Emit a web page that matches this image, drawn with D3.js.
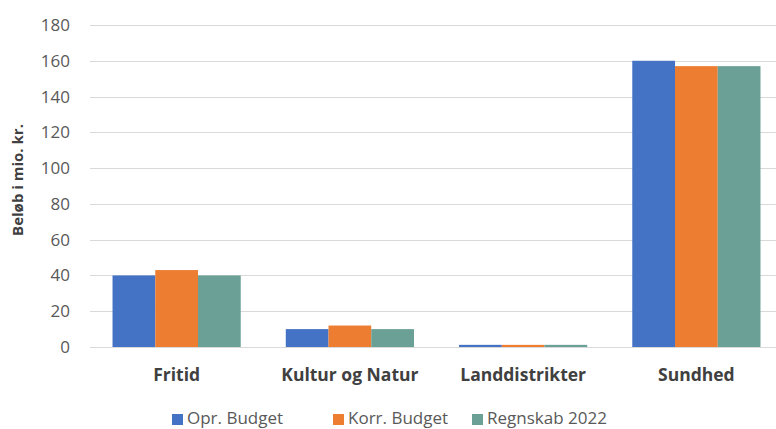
<!DOCTYPE html>
<html>
<head>
<meta charset="utf-8">
<script src="https://cdn.jsdelivr.net/npm/d3@7"></script>
<style>
  html, body { margin: 0; padding: 0; background: #fff; }
  svg { display: block; font-family: "Open Sans", "Noto Sans", sans-serif; }
</style>
</head>
<body>
<div id="chart"></div>
<script>
// Beløb pr. område: oprindeligt budget, korrigeret budget og regnskab 2022 (mio. kr.)
const categories = ["Fritid", "Kultur og Natur", "Landdistrikter", "Sundhed"];
const seriesNames = ["Opr. Budget", "Korr. Budget", "Regnskab 2022"];
const oprBudget = [40, 10, 1.2, 160];
const korrBudget = [43, 12, 1.2, 157];
const regnskab2022 = [40, 10, 1.2, 157];
const yTicks = [0, 20, 40, 60, 80, 100, 120, 140, 160, 180];

const colors = ["#4472C4", "#ED7D31", "#6AA095"];
const seriesValues = [oprBudget, korrBudget, regnskab2022];

const width = 776, height = 429;
const m = { top: 25, right: -7, bottom: 82, left: 90 };

const svg = d3.select("#chart").append("svg")
  .attr("width", width).attr("height", height).attr("viewBox", `0 0 ${width} ${height}`);

const x0 = d3.scaleBand().domain(categories)
  .range([m.left, width - m.right]).paddingInner(0.26).paddingOuter(0.13);
const x1 = d3.scaleBand().domain(seriesNames).range([0, x0.bandwidth()]);
const y = d3.scaleLinear().domain([0, 180]).range([height - m.bottom, m.top]);

// gridlines
svg.append("g").selectAll("line").data(yTicks).join("line")
  .attr("x1", m.left).attr("x2", width)
  .attr("y1", (d) => Math.round(y(d)) + 0.5).attr("y2", (d) => Math.round(y(d)) + 0.5)
  .attr("stroke", "#D9D9D9").attr("stroke-width", 1);

// y tick labels
const yAxis = svg.append("g").attr("transform", `translate(${m.left - 20},0)`)
  .call(d3.axisLeft(y).tickValues(yTicks).tickSize(0).tickPadding(0));
yAxis.select(".domain").remove();
yAxis.selectAll("text").attr("fill", "#595959").attr("font-size", 17)
  .attr("font-family", "'Open Sans', sans-serif");

// bars
const rows = categories.map((c, i) => ({ cat: c, vals: seriesNames.map((s, j) => ({ s, v: seriesValues[j][i], j })) }));
svg.append("g").selectAll("g").data(rows).join("g")
  .attr("transform", (d) => `translate(${x0(d.cat)},0)`)
  .selectAll("rect").data((d) => d.vals).join("rect")
  .attr("x", (d) => x1(d.s)).attr("width", x1.bandwidth())
  .attr("y", (d) => y(d.v)).attr("height", (d) => y(0) - y(d.v))
  .attr("fill", (d) => colors[d.j]);

// category labels
const xAxis = svg.append("g").attr("transform", `translate(0,${y(0)})`)
  .call(d3.axisBottom(x0).tickSize(0).tickPadding(22));
xAxis.select(".domain").remove();
xAxis.selectAll("text").attr("fill", "#404040").attr("font-size", 17.5).attr("font-weight", 700)
  .attr("font-family", "'Open Sans', sans-serif");

// y title
svg.append("text")
  .attr("transform", `translate(23,${(m.top + y(0)) / 2 - 6}) rotate(-90)`)
  .attr("text-anchor", "middle").attr("fill", "#404040")
  .attr("font-size", 15).attr("font-weight", 700)
  .text("Beløb i mio. kr.");

// legend
const legend = svg.append("g").attr("transform", "translate(0,424)");
const legendX = [172, 333, 472];
const items = legend.selectAll("g").data(seriesNames).join("g")
  .attr("transform", (d, i) => `translate(${legendX[i]},0)`);
items.append("rect").attr("x", 0).attr("y", -10).attr("width", 11).attr("height", 11)
  .attr("fill", (d, i) => colors[i]);
items.append("text").attr("x", 15).attr("y", 0).attr("fill", "#595959")
  .attr("font-size", 17).text((d) => d);
</script>
</body>
</html>
